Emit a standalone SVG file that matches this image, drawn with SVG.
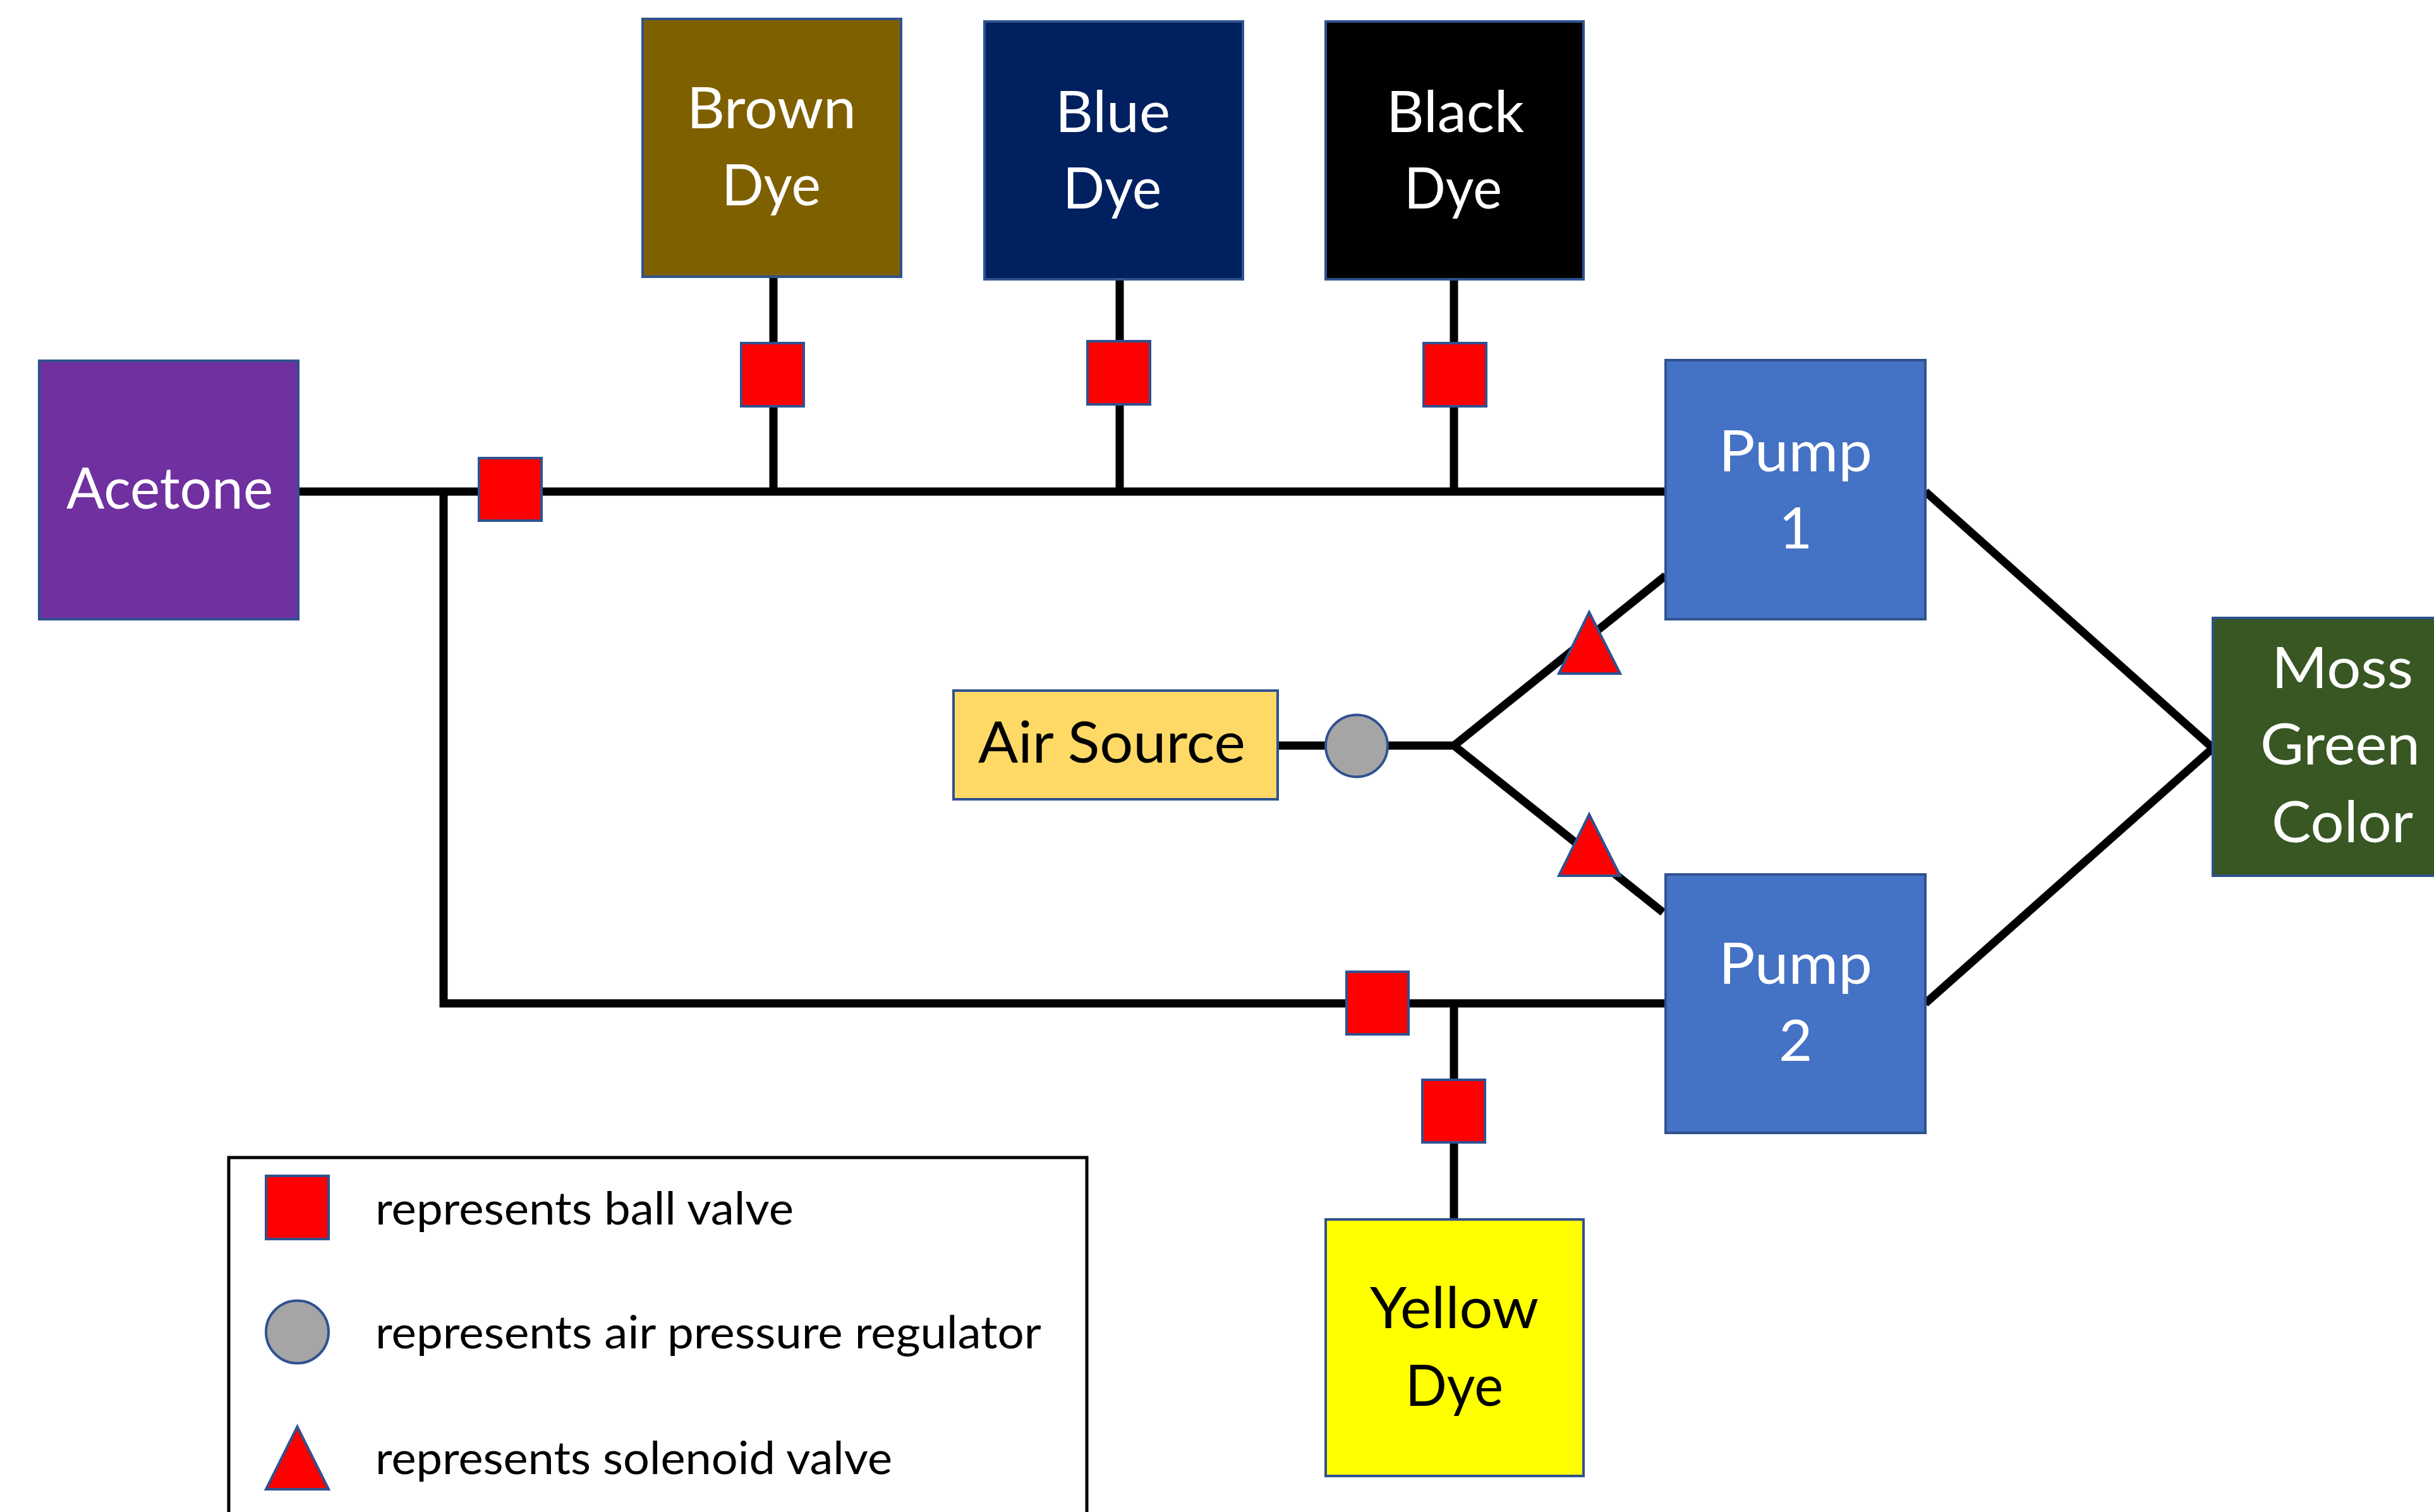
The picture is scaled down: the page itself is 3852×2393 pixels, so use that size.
<svg xmlns="http://www.w3.org/2000/svg" width="3852" height="2393" viewBox="0 0 3852 2393">
<defs><style>
text{font-family:"Lato","Open Sans","Liberation Sans",sans-serif;}
.n{stroke:#2F528F;stroke-width:4;}
.v{fill:#FF0000;stroke:#2F528F;stroke-width:4;}
.l{font-size:92px;fill:#FFFFFF;}
.d{font-size:92px;fill:#000000;}
.k{font-size:72px;fill:#000000;}
.c{fill:none;stroke:#000000;stroke-width:13;stroke-linejoin:miter;}
</style></defs>
<rect width="3852" height="2393" fill="#FFFFFF"/>
<g id="connectors">
<path class="c" d="M472 778H2636M702 778V1588H2636M1224 438V778M1772 442V778M2301 442V778M2301 1588V1930"/>
<path class="c" d="M3047 778L3502 1184L3047 1588"/>
<path class="c" d="M2022 1180H2301L2636 911M2301 1180L2632 1444"/>
</g>
<g id="acetone"><rect class="n" x="62" y="571" width="410" height="409" fill="#7030A0"/><text class="l" x="105" y="805" textLength="327" lengthAdjust="spacingAndGlyphs">Acetone</text></g>
<g id="brown-dye"><rect class="n" x="1017" y="30" width="409" height="408" fill="#7F6000"/><text class="l" x="1087" y="203" textLength="268" lengthAdjust="spacingAndGlyphs">Brown</text><text class="l" x="1142" y="325" textLength="157" lengthAdjust="spacingAndGlyphs">Dye</text></g>
<g id="blue-dye"><rect class="n" x="1558" y="34" width="409" height="408" fill="#002060"/><text class="l" x="1670" y="209" textLength="182" lengthAdjust="spacingAndGlyphs">Blue</text><text class="l" x="1682" y="330" textLength="156" lengthAdjust="spacingAndGlyphs">Dye</text></g>
<g id="black-dye"><rect class="n" x="2098" y="34" width="408" height="408" fill="#000000"/><text class="l" x="2194" y="209" textLength="218" lengthAdjust="spacingAndGlyphs">Black</text><text class="l" x="2222" y="330" textLength="155" lengthAdjust="spacingAndGlyphs">Dye</text></g>
<g id="pump-1"><rect class="n" x="2636" y="570" width="411" height="410" fill="#4472C4"/><text class="l" x="2720" y="746" textLength="243" lengthAdjust="spacingAndGlyphs">Pump</text><text class="l" x="2815" y="868">1</text></g>
<g id="pump-2"><rect class="n" x="2636" y="1384" width="411" height="409" fill="#4472C4"/><text class="l" x="2720" y="1557" textLength="243" lengthAdjust="spacingAndGlyphs">Pump</text><text class="l" x="2815" y="1679">2</text></g>
<g id="moss-green-color"><rect class="n" x="3502" y="978" width="360" height="408" fill="#385723"/><text class="l" x="3595" y="1089" textLength="224" lengthAdjust="spacingAndGlyphs">Moss</text><text class="l" x="3577" y="1210" textLength="253" lengthAdjust="spacingAndGlyphs">Green</text><text class="l" x="3595" y="1333" textLength="224" lengthAdjust="spacingAndGlyphs">Color</text></g>
<g id="air-source"><rect class="n" x="1509" y="1093" width="513" height="172" fill="#FFD966"/><text class="d" x="1548" y="1207" textLength="423" lengthAdjust="spacingAndGlyphs">Air Source</text></g>
<g id="yellow-dye"><rect class="n" x="2098" y="1930" width="408" height="406" fill="#FFFF00"/><text class="d" x="2168" y="2102" textLength="267" lengthAdjust="spacingAndGlyphs">Yellow</text><text class="d" x="2224" y="2225" textLength="155" lengthAdjust="spacingAndGlyphs">Dye</text></g>
<g id="valve-acetone"><rect class="v" x="758" y="725" width="99" height="99"/></g>
<g id="valve-brown"><rect class="v" x="1173" y="543" width="99" height="100"/></g>
<g id="valve-blue"><rect class="v" x="1721" y="540" width="99" height="100"/></g>
<g id="valve-black"><rect class="v" x="2253" y="543" width="99" height="100"/></g>
<g id="valve-pump2"><rect class="v" x="2131" y="1538" width="98" height="99"/></g>
<g id="valve-yellow"><rect class="v" x="2251" y="1709" width="99" height="99"/></g>
<g id="regulator"><circle cx="2147" cy="1180.500" r="49" fill="#A5A5A5" stroke="#2F528F" stroke-width="4"/></g>
<g id="solenoid-1"><polygon class="v" points="2515,969 2564,1066 2467,1066"/></g>
<g id="solenoid-2"><polygon class="v" points="2515,1289 2564,1386 2467,1386"/></g>
<g id="legend">
<rect x="362" y="1832" width="1358" height="600" fill="#FFFFFF" stroke="#000000" stroke-width="5"/>
<rect class="v" x="421" y="1861" width="99" height="100"/>
<ellipse cx="470.500" cy="2108" rx="49.500" ry="49.500" fill="#A5A5A5" stroke="#2F528F" stroke-width="4"/>
<polygon class="v" points="470.500,2258 520,2357 421,2357"/>
<text class="k" x="594" y="1938" textLength="662" lengthAdjust="spacingAndGlyphs">represents ball valve</text>
<text class="k" x="594" y="2134" textLength="1054" lengthAdjust="spacingAndGlyphs">represents air pressure regulator</text>
<text class="k" x="594" y="2333" textLength="818" lengthAdjust="spacingAndGlyphs">represents solenoid valve</text>
</g>
</svg>
